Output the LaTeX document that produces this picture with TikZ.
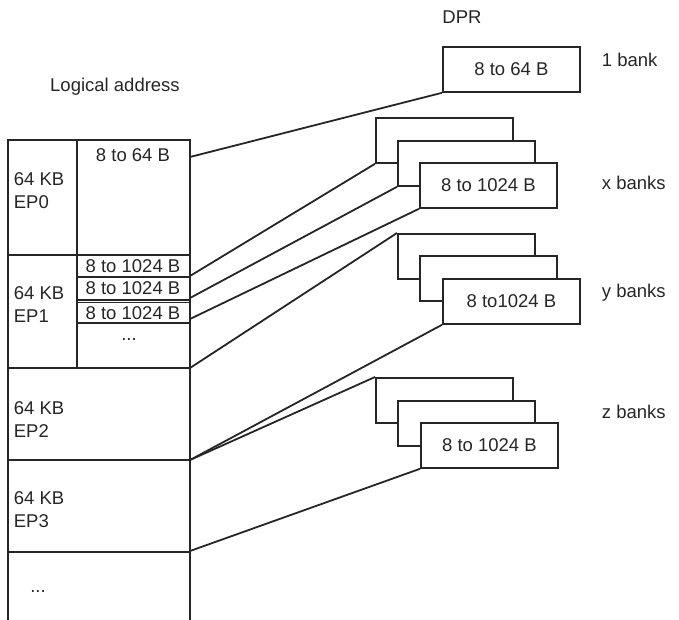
\documentclass[tikz,border=0pt]{standalone}
\usepackage{fontspec}
\setmainfont{Liberation Sans}
\begin{document}
\begin{tikzpicture}[x=1pt,y=-1pt,line width=1.8pt,color={black!85},
  txt/.style={font=\fontsize{18.5}{22}\selectfont,inner sep=0pt},
  bank/.style={draw,fill=white,minimum width=137pt,minimum height=45pt,anchor=north west,inner sep=0pt,font=\fontsize{18.5}{22}\selectfont},
  conn/.style={draw}]
\useasboundingbox (0,0) rectangle (679,620);
% left column
\draw (8,620) -- (8,140) -- (190,140) -- (190,620);
\draw (77,140) -- (77,368);
\foreach \y in {255,368,460,552} \draw (8,\y) -- (190,\y);
\draw (77,277) -- (190,277);
\draw (77,300) -- (190,300);
\draw (77,302.5) -- (190,302.5);
\draw (77,323) -- (190,323);
\node[txt] at (133,155) {8 to 64 B};
\node[txt] at (133,266) {8 to 1024 B};
\node[txt] at (133,288.5) {8 to 1024 B};
\node[txt] at (133,313) {8 to 1024 B};
\node[txt] at (129,340) {...};
\node[txt,anchor=west,align=left] (e0) at (13,191) {64 KB\\[1pt]EP0};
\node[txt,anchor=west,align=left] (e1) at (13,305) {64 KB\\[1pt]EP1};
\node[txt,anchor=west,align=left] (e2) at (13,420) {64 KB\\[1pt]EP2};
\node[txt,anchor=west,align=left] (e3) at (13,510) {64 KB\\[1pt]EP3};
\node[txt] at (38,592) {...};
\coordinate (s0) at (190,157);
\coordinate (s1) at (190,276);
\coordinate (s2) at (190,298);
\coordinate (s3) at (190,319);
\coordinate (s4) at (190,368);
\coordinate (s5) at (190,460);
\coordinate (s6) at (190,551);
% labels
\node[txt] at (115,87) {Logical address};
\node[txt] at (462,17) {DPR};
\node[txt,anchor=west] at (601,60) {1 bank};
\node[txt,anchor=west] at (601,183) {x banks};
\node[txt,anchor=west] at (601,293) {y banks};
\node[txt,anchor=west] at (601,412) {z banks};
% banks
\node[bank] (d) at (442,46) {8 to 64 B};
\node[bank] (x1) at (375,117) {};
\node[bank] (x2) at (397,140) {};
\node[bank] (x3) at (419,162) {8 to 1024 B};
\node[bank] (y1) at (397,233) {};
\node[bank] (y2) at (419,255) {};
\node[bank] (y3) at (442,278) {8 to1024 B};
\node[bank] (z1) at (375,377) {};
\node[bank] (z2) at (397,400) {};
\node[bank] (z3) at (420,422) {8 to 1024 B};
% connectors
\draw (s0) -- (d.south west);
\draw (s1) -- (x1.south west);
\draw (s2) -- (x2.south west);
\draw (s3) -- (x3.south west);
\draw (s4) -- (y1.north west);
\draw (s5) -- (y3.south west);
\draw (s5) -- (z1.north west);
\draw (s6) -- (z3.south west);
\end{tikzpicture}
\end{document}
